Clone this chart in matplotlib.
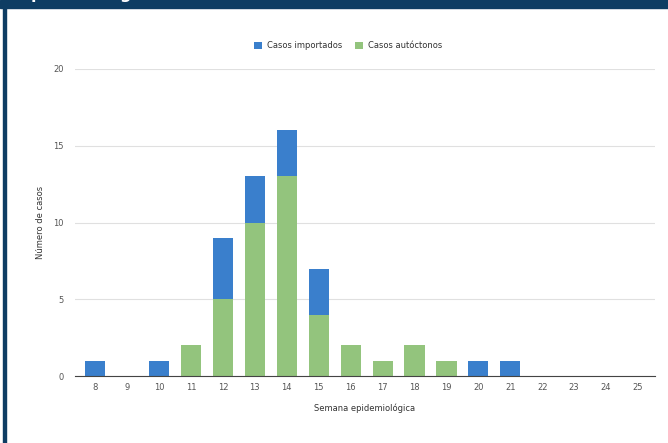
import matplotlib
matplotlib.use("Agg")
import matplotlib.pyplot as plt
from matplotlib.patches import Rectangle
import numpy as np

# semanas epidemiologicas y casos
semanas = ['8', '9', '10', '11', '12', '13', '14', '15', '16', '17',
           '18', '19', '20', '21', '22', '23', '24', '25']
importados = [1, 0, 1, 0, 4, 3, 3, 3, 0, 0, 0, 0, 1, 1, 0, 0, 0, 0]
autoctonos = [0, 0, 0, 2, 5, 10, 13, 4, 2, 1, 2, 1, 0, 0, 0, 0, 0, 0]
y_ticks = [0, 5, 10, 15, 20]

azul = '#3a7fcc'
verde = '#93c47d'
marco = '#0e3d63'

fig = plt.figure(figsize=(6.68, 4.43), dpi=100)

# banda superior (titulo recortado) y borde izquierdo
fig.patches.append(Rectangle((0, 1 - 8 / 443), 1, 8 / 443, transform=fig.transFigure,
                             color=marco, zorder=0))
fig.patches.append(Rectangle((3 / 668, 0), 3 / 668, 1, transform=fig.transFigure,
                             color=marco, zorder=0))
fig.text(20 / 668, 1 + 1 / 443, 'Epidemiológica', color='white', fontsize=11.5,
         fontweight='bold', va='baseline', ha='left')

ax = fig.add_axes([75 / 668, 1 - 376 / 443, 580 / 668, 307 / 443])
x = np.arange(len(semanas))
ax.bar(x, autoctonos, width=0.63, color=verde, label='Casos autóctonos', zorder=3)
ax.bar(x, importados, width=0.63, bottom=autoctonos, color=azul,
       label='Casos importados', zorder=3)

ax.set_xlim(-0.63, len(semanas) - 1 + 0.53)
ax.set_ylim(0, 20)
ax.set_yticks(y_ticks)
ax.set_xticks(x)
ax.set_xticklabels(semanas)
ax.tick_params(axis='both', length=0, labelsize=6, labelcolor='#555555')
ax.tick_params(axis='x', pad=5)
ax.tick_params(axis='y', pad=8)
ax.grid(axis='y', color='#e0e0e0', linewidth=0.8, zorder=0)
for s in ['top', 'right', 'left']:
    ax.spines[s].set_visible(False)
ax.spines['bottom'].set_color('#444444')
ax.spines['bottom'].set_linewidth(0.8)
ax.spines['bottom'].set_zorder(4)

ax.set_xlabel('Semana epidemiológica', fontsize=6, color='#333333', labelpad=8)
ax.set_ylabel('Número de casos', fontsize=6, color='#333333', labelpad=6)

h, l = ax.get_legend_handles_labels()
fig.legend(h[::-1], l[::-1], loc='center', bbox_to_anchor=(348 / 668, 1 - 46 / 443),
           ncol=2, frameon=False, fontsize=6, handlelength=1.0, handleheight=1.0,
           columnspacing=1.5, handletextpad=0.6, labelcolor='#333333')

fig.savefig('out.png', dpi=100)
